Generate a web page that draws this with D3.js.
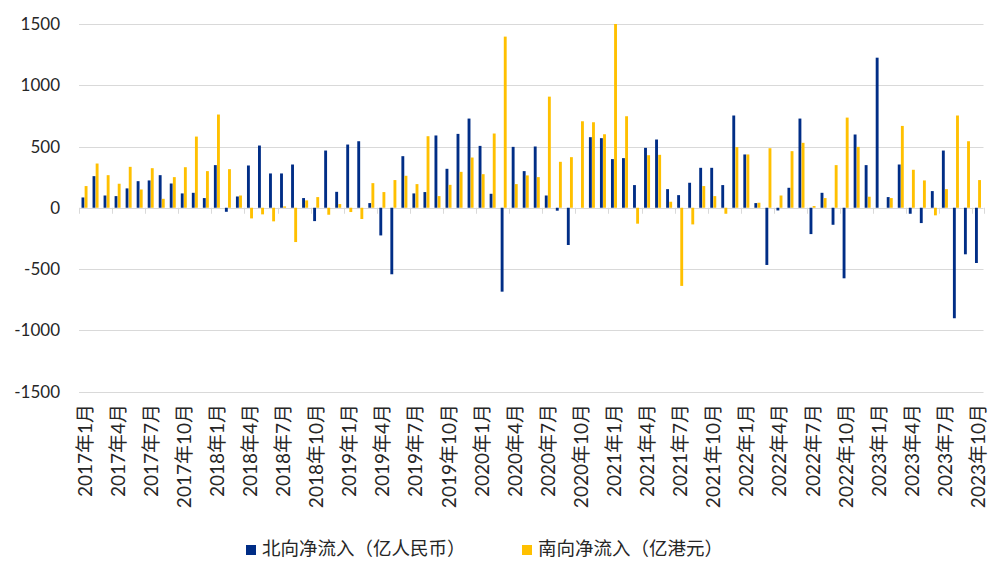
<!DOCTYPE html>
<html>
<head>
<meta charset="utf-8">
<script src="https://cdn.jsdelivr.net/npm/d3@7"></script>
<style>
  body { margin: 0; background: #fff; }
  svg text { fill: #262626; }
</style>
</head>
<body>
<svg id="chart"></svg>
<script>
// 月份：2017年1月 - 2023年10月
const months = [];
for (let y = 2017; y <= 2023; y++) {
    for (let m = 1; m <= 12; m++) {
        if (y === 2023 && m > 10) break;
        months.push(`${y}年${m}月`);
    }
}

const seriesNames = ["北向净流入（亿人民币）", "南向净流入（亿港元）"];
const seriesColors = ["#002D86", "#FFC000"];

// 北向净流入（亿人民币）
const northFlow = [
    84, 258, 100, 95, 158, 217, 223, 266, 198, 117, 122, 79,
    348, -33, 92, 345, 508, 280, 280, 353, 79, -109, 467, 130,
    516, 543, 38, -226, -543, 421, 117, 128, 590, 318, 603, 728,
    505, 114, -685, 497, 299, 500, 100, -24, -304, 0, 576, 568,
    397, 405, 185, 489, 557, 152, 103, 204, 326, 326, 185, 753,
    435, 38, -467, -22, 163, 728, -215, 122, -139, -576, 598, 348,
    1225, 87, 353, -49, -125, 136, 467, -902, -380, -451
];

// 南向净流入（亿港元）
const southFlow = [
    177, 361, 266, 196, 334, 149, 323, 73, 250, 331, 581, 299,
    761, 315, 100, -87, -54, -111, 11, -280, 60, 87, -57, 30,
    -35, -92, 201, 128, 226, 261, 193, 584, 95, 187, 293, 410,
    274, 606, 1397, 193, 264, 250, 907, 375, 413, 706, 698, 600,
    1500, 747, -130, 429, 432, 49, -638, -136, 177, 95, -49, 495,
    435, 41, 486, 100, 462, 530, 14, 79, 348, 736, 497, 90,
    0, 79, 668, 310, 223, -62, 152, 753, 543, 226
];

const yTicks = [-1500, -1000, -500, 0, 500, 1000, 1500];

const width = 989, height = 561;
const svg = d3.select("#chart").attr("width", width).attr("height", height);

const x = d3.scaleBand().domain(months).range([79, 983.5]).padding(0);
const y = d3.scaleLinear().domain([-1500, 1500]).range([391.5, 24]);
const x1 = d3.scaleBand().domain([0, 1])
    .range([x.bandwidth() / 2 - 3, x.bandwidth() / 2 + 3]).paddingInner(0.08);

const fontNum = "Lato, 'Liberation Sans', sans-serif";
const fontCjk = "Lato, 'Noto Sans CJK SC', sans-serif";

// gridlines
svg.append("g")
    .selectAll("line")
    .data(yTicks)
    .enter()
    .append("line")
    .attr("x1", 79)
    .attr("x2", 983.5)
    .attr("y1", d => Math.round(y(d)) + 0.5)
    .attr("y2", d => Math.round(y(d)) + 0.5)
    .attr("stroke", "#d9d9d9")
    .attr("stroke-width", 1);

// y axis labels
svg.append("g")
    .selectAll("text")
    .data(yTicks)
    .enter()
    .append("text")
    .attr("x", 60)
    .attr("y", d => y(d) + 6)
    .attr("text-anchor", "end")
    .style("font-family", fontNum)
    .style("font-size", "17px")
    .text(d => d);

// category ticks every 3 months, hanging below zero line
const tickIdx = months.map((m, i) => i).filter(i => i % 3 === 0).concat([months.length]);
svg.append("g")
    .selectAll("line")
    .data(tickIdx)
    .enter()
    .append("line")
    .attr("x1", i => Math.round(i < months.length ? x(months[i]) : x.range()[1]) + 0.5)
    .attr("x2", i => Math.round(i < months.length ? x(months[i]) : x.range()[1]) + 0.5)
    .attr("y1", y(0))
    .attr("y2", y(0) + 6)
    .attr("stroke", "#d9d9d9")
    .attr("stroke-width", 1);

// bars
const allSeries = [northFlow, southFlow];
allSeries.forEach((vals, s) => {
    svg.append("g")
        .selectAll("rect")
        .data(vals)
        .enter()
        .append("rect")
        .attr("x", (d, i) => x(months[i]) + x1(s))
        .attr("width", x1.bandwidth())
        .attr("y", d => y(Math.max(0, d)))
        .attr("height", d => Math.abs(y(d) - y(0)))
        .attr("fill", seriesColors[s]);
});

// x axis labels (rotated)
svg.append("g")
    .selectAll("text")
    .data(months.filter((m, i) => i % 3 === 0))
    .enter()
    .append("text")
    .attr("transform", d => `translate(${x(d) + x.bandwidth() / 2 + 7},404) rotate(-90)`)
    .attr("text-anchor", "end")
    .style("font-family", fontCjk)
    .style("font-size", "19px")
    .text(d => d);

// legend
const legendX = [246, 522];
seriesNames.forEach((name, s) => {
    const g = svg.append("g").attr("transform", `translate(${legendX[s]},545)`);
    g.append("rect")
        .attr("width", 10)
        .attr("height", 10)
        .attr("fill", seriesColors[s]);
    g.append("text")
        .attr("x", 16)
        .attr("y", 10)
        .style("font-family", "'Noto Sans CJK SC', sans-serif")
        .style("font-size", "18.5px")
        .text(name);
});
</script>
</body>
</html>
